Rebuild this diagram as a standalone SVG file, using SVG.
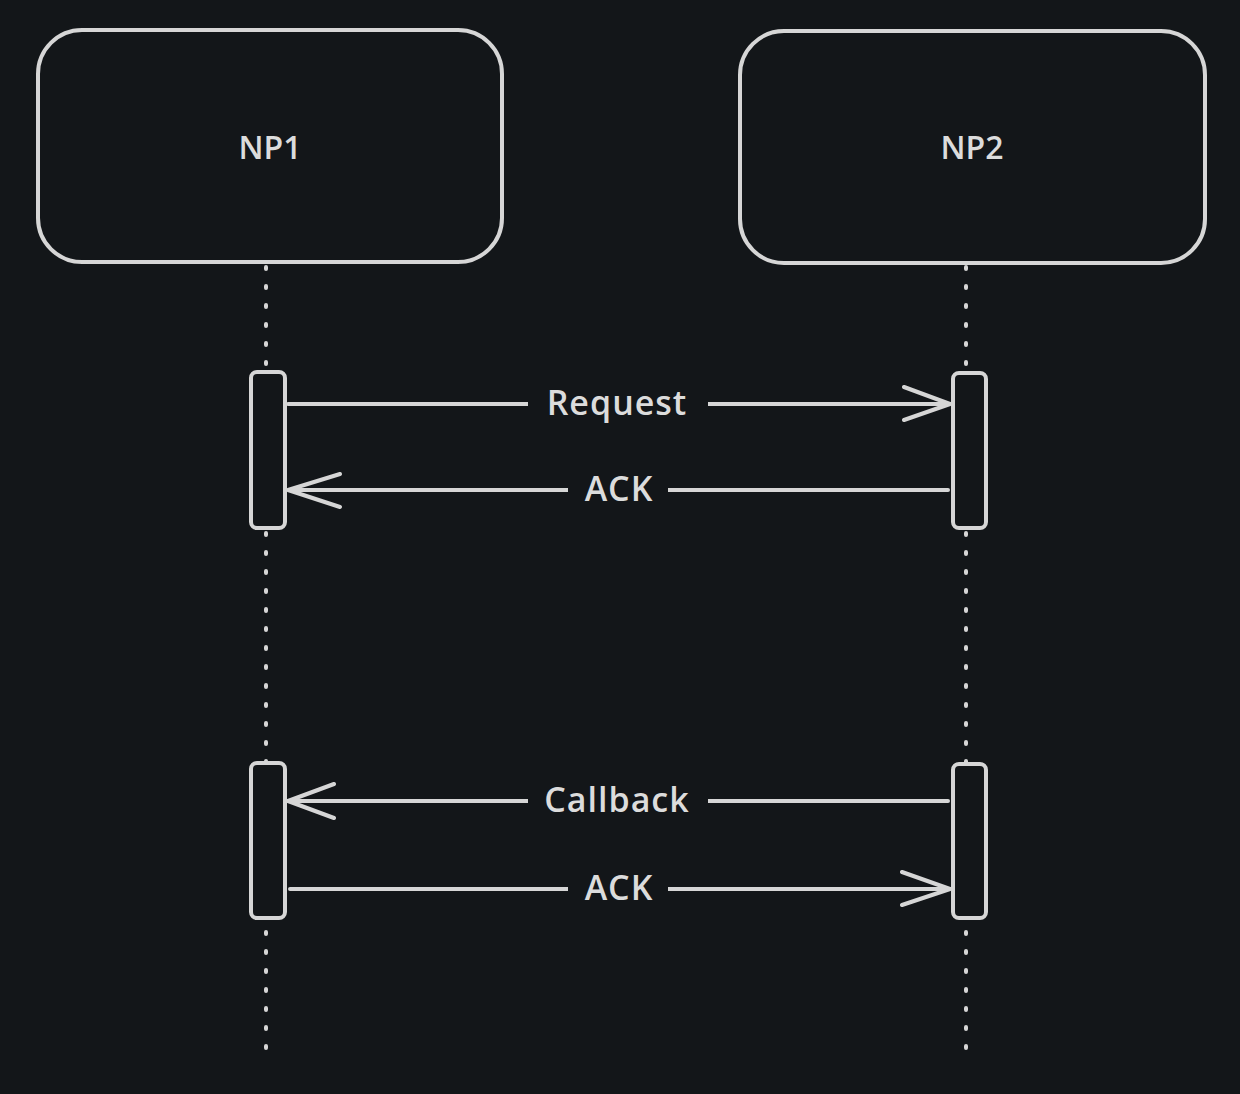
<svg xmlns="http://www.w3.org/2000/svg" width="1240" height="1094" viewBox="0 0 1240 1094">
<style>
.s{fill:none;stroke:#d6d6d6;stroke-width:4;stroke-linecap:round;stroke-linejoin:round}
.life{fill:none;stroke:#d6d6d6;stroke-width:4;stroke-linecap:round;stroke-dasharray:2 17}
.bar{fill:#131619;stroke:#d6d6d6;stroke-width:4}
.t{fill:#dcdcdc;font-family:"Open Sans","Liberation Sans",sans-serif;font-weight:600;text-anchor:middle;dominant-baseline:central}
.lbl{font-size:34px;letter-spacing:1px}
.nd{font-size:32px}
.bg{fill:#131619}
</style>
<rect width="1240" height="1094" fill="#131619"/>
<g id="lifelines">
<line class="life" x1="266" y1="267" x2="266" y2="1050"/>
<line class="life" x1="966" y1="267" x2="966" y2="1050"/>
</g>
<g id="np1"><rect class="s" x="38" y="30" width="464" height="232" rx="44"/><text class="t nd" x="270" y="146">NP1</text></g>
<g id="np2"><rect class="s" x="740" y="31" width="465" height="232" rx="44"/><text class="t nd" x="972" y="146">NP2</text></g>
<g id="act1"><rect class="bar" x="251" y="372" width="34" height="156" rx="6"/></g>
<g id="act2"><rect class="bar" x="953" y="373" width="33" height="155" rx="6"/></g>
<g id="act3"><rect class="bar" x="251" y="763" width="34" height="155" rx="6"/></g>
<g id="act4"><rect class="bar" x="953" y="764" width="33" height="154" rx="6"/></g>
<g id="connectors">
<path class="s" d="M288 404 H950 M904 387 L950 404 L904 420"/>
<rect class="bg" x="528" y="380" width="180" height="48"/>
<text class="t lbl" x="617" y="402">Request</text>
<path class="s" d="M948 490 H288 M340 474 L288 490 L340 507"/>
<rect class="bg" x="568" y="466" width="100" height="48"/>
<text class="t lbl" x="619" y="488">ACK</text>
<path class="s" d="M948 801 H288 M334 784 L288 801 L334 818"/>
<rect class="bg" x="528" y="777" width="180" height="48"/>
<text class="t lbl" x="617" y="799">Callback</text>
<path class="s" d="M290 889 H950 M902 872 L950 889 L902 905"/>
<rect class="bg" x="568" y="865" width="100" height="48"/>
<text class="t lbl" x="619" y="887">ACK</text>
</g>
</svg>
